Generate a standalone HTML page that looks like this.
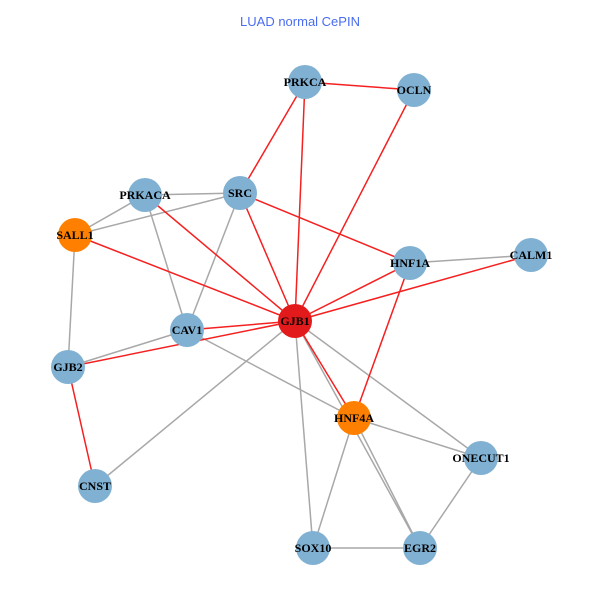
<!DOCTYPE html>
<html><head><style>body{margin:0;background:#fff}</style></head><body>
<svg width="600" height="600" xmlns="http://www.w3.org/2000/svg">
<text x="300" y="26" text-anchor="middle" font-family="Liberation Sans, sans-serif" font-size="13" fill="#4a6cf0">LUAD normal CePIN</text>
<g stroke="#a8a8a8" stroke-width="1.5">
<line x1="145" y1="195" x2="240" y2="193"/>
<line x1="75" y1="235" x2="240" y2="193"/>
<line x1="75" y1="235" x2="145" y2="195"/>
<line x1="75" y1="235" x2="68" y2="367"/>
<line x1="145" y1="195" x2="187" y2="330"/>
<line x1="240" y1="193" x2="187" y2="330"/>
<line x1="410" y1="263" x2="531" y2="255"/>
<line x1="187" y1="330" x2="68" y2="367"/>
<line x1="187" y1="330" x2="354" y2="418"/>
<line x1="295" y1="321" x2="95" y2="486"/>
<line x1="295" y1="321" x2="481" y2="458"/>
<line x1="295" y1="321" x2="313" y2="548"/>
<line x1="295" y1="321" x2="420" y2="548"/>
<line x1="354" y1="418" x2="481" y2="458"/>
<line x1="354" y1="418" x2="313" y2="548"/>
<line x1="354" y1="418" x2="420" y2="548"/>
<line x1="313" y1="548" x2="420" y2="548"/>
<line x1="481" y1="458" x2="420" y2="548"/>
</g>
<g stroke="#f52020" stroke-width="1.5">
<line x1="305" y1="82" x2="414" y2="90"/>
<line x1="305" y1="82" x2="240" y2="193"/>
<line x1="305" y1="82" x2="295" y2="321"/>
<line x1="414" y1="90" x2="295" y2="321"/>
<line x1="240" y1="193" x2="295" y2="321"/>
<line x1="240" y1="193" x2="410" y2="263"/>
<line x1="145" y1="195" x2="295" y2="321"/>
<line x1="75" y1="235" x2="295" y2="321"/>
<line x1="410" y1="263" x2="295" y2="321"/>
<line x1="531" y1="255" x2="295" y2="321"/>
<line x1="187" y1="330" x2="295" y2="321"/>
<line x1="68" y1="367" x2="295" y2="321"/>
<line x1="68" y1="367" x2="95" y2="486"/>
<line x1="410" y1="263" x2="354" y2="418"/>
<line x1="295" y1="321" x2="354" y2="418"/>
</g>
<g font-family="Liberation Serif, serif" font-weight="bold" font-size="12" text-anchor="middle" fill="#000">
<circle cx="305" cy="82" r="17" fill="#80b1d3"/><text x="305" y="86">PRKCA</text>
<circle cx="414" cy="90" r="17" fill="#80b1d3"/><text x="414" y="94">OCLN</text>
<circle cx="240" cy="193" r="17" fill="#80b1d3"/><text x="240" y="197">SRC</text>
<circle cx="145" cy="195" r="17" fill="#80b1d3"/><text x="145" y="199">PRKACA</text>
<circle cx="75" cy="235" r="17" fill="#ff8000"/><text x="75" y="239">SALL1</text>
<circle cx="410" cy="263" r="17" fill="#80b1d3"/><text x="410" y="267">HNF1A</text>
<circle cx="531" cy="255" r="17" fill="#80b1d3"/><text x="531" y="259">CALM1</text>
<circle cx="187" cy="330" r="17" fill="#80b1d3"/><text x="187" y="334">CAV1</text>
<circle cx="295" cy="321" r="17" fill="#e31a1c"/><text x="295" y="325">GJB1</text>
<circle cx="68" cy="367" r="17" fill="#80b1d3"/><text x="68" y="371">GJB2</text>
<circle cx="354" cy="418" r="17" fill="#ff8000"/><text x="354" y="422">HNF4A</text>
<circle cx="481" cy="458" r="17" fill="#80b1d3"/><text x="481" y="462">ONECUT1</text>
<circle cx="95" cy="486" r="17" fill="#80b1d3"/><text x="95" y="490">CNST</text>
<circle cx="313" cy="548" r="17" fill="#80b1d3"/><text x="313" y="552">SOX10</text>
<circle cx="420" cy="548" r="17" fill="#80b1d3"/><text x="420" y="552">EGR2</text>
</g>
</svg>
</body></html>
